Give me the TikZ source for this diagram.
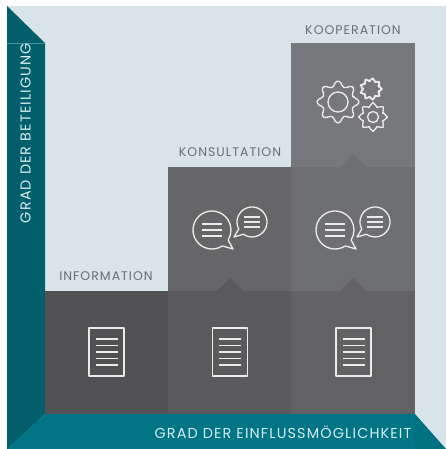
\documentclass[tikz,border=0pt]{standalone}
\usepackage{fontspec}
\setmainfont{Poppins}[LetterSpace=8]
\definecolor{paper}{HTML}{D8E4EA}
\definecolor{stripdark}{HTML}{005F6B}
\definecolor{stripmain}{HTML}{007585}
\definecolor{labelgrey}{HTML}{6D6E70}
\definecolor{axislabel}{HTML}{D9ECEE}
\definecolor{cellA}{HTML}{515052}
\definecolor{cellB}{HTML}{5A595B}
\definecolor{cellC}{HTML}{626264}
\definecolor{cellD}{HTML}{666567}
\definecolor{cellE}{HTML}{6E6F72}
\definecolor{cellF}{HTML}{77787B}
\tikzset{every picture/.style={line width=0.75pt}}
\tikzset{
  icon/.style={draw=white!92!black,line width=1pt,line join=round},
  steplabel/.style={text=labelgrey,font=\fontsize{9.4}{11}\selectfont,inner sep=0pt},
  axisname/.style={text=axislabel,font=\fontsize{10.8}{12}\selectfont,inner sep=0pt}
}
% document icon around its centre
\newcommand{\docicon}[2]{
  \draw[icon] (#1-17.5,#2-24) rectangle (#1+17.5,#2+24);
  \foreach \ly in {-13,-6.5,0,6.5,13}
    \draw[icon] (#1-11,#2+\ly) -- (#1+11,#2+\ly);
}
% two speech bubbles, #1 is the centre of the big one
\newcommand{\talkicon}[2]{
  \draw[icon] ([shift={(57:19)}]#1,#2) arc [start angle=57,end angle=392,radius=19] -- (#1+21,#2+19) -- cycle;
  \draw[icon] ([shift={(152:15)}]#1+40,#2-8) arc [start angle=152,end angle=485,radius=15] -- (#1+22,#2+7) -- cycle;
  \foreach \ly in {-6,0,6}
    \draw[icon] (#1-10,#2+\ly) -- (#1+10,#2+\ly);
  \foreach \ly in {-5,0,5}
    \draw[icon] (#1+32,#2-8+\ly) -- (#1+48,#2-8+\ly);
}
% x, y, teeth, outer radius, root radius
\newcommand{\gearicon}[5]{
  \pgfmathsetmacro{\gstep}{360/#3}
  \draw[icon,rounded corners=1.5pt,shift={(#1,#2)}] (-0.3*\gstep:#5)
    \foreach \gi in {1,...,#3} {
      -- ({(\gi-1)*\gstep-0.3*\gstep}:#5)
      -- ({(\gi-1)*\gstep-0.17*\gstep}:#4)
      -- ({(\gi-1)*\gstep+0.17*\gstep}:#4)
      -- ({(\gi-1)*\gstep+0.3*\gstep}:#5)
    } -- cycle;
}
\begin{document}
\begin{tikzpicture}[x=0.75pt,y=0.75pt,yscale=-1,xscale=1]
\useasboundingbox (0,0) rectangle (446,449);

% Background
\fill[paper] (7,6) rectangle (446,449);
% Left strip
\fill[stripdark] (7,6) -- (45,43) -- (45,414) -- (8,449) -- (7,449) -- cycle;
\draw[stripmain!70!paper,line width=0.4pt] (7,43) -- (45,43);
% Bottom strip
\fill[stripmain] (45,414) -- (415,414) -- (415,449) -- (8,449) -- cycle;
\fill[stripmain!97!black] (415,414) -- (446,449) -- (415,449) -- cycle;

% Cells
\fill[cellA] (45,291) rectangle (168,414);
\fill[cellB] (168,291) rectangle (291,414);
\fill[cellC] (291,291) rectangle (415,414);
\fill[cellD] (168,167) rectangle (291,291);
\fill[cellE] (291,167) rectangle (415,291);
\fill[cellF] (291,43) rectangle (415,167);
% Step marks
\fill[cellB] (217,291) -- (230,278) -- (243,291) -- cycle;
\fill[cellC] (340,291) -- (353,278) -- (366,291) -- cycle;
\fill[cellE] (340,167) -- (353,154) -- (366,167) -- cycle;

% Icons
\docicon{106.5}{352}
\docicon{230}{352}
\docicon{353.5}{352}
\talkicon{212}{230}
\talkicon{335}{230}
\gearicon{338}{102}{8}{21}{16}
\draw[icon] (338,102) circle [radius=10];
\gearicon{371}{89}{9}{11}{8}
\gearicon{373}{117}{8}{14.5}{10.5}
\draw[icon] (373,117) circle [radius=5.5];

% Labels
\node[steplabel] (information) at (106,276) {INFORMATION};
\node[steplabel] (konsultation) at (230,152) {KONSULTATION};
\node[steplabel] (kooperation) at (353,30) {KOOPERATION};
\node[axisname,rotate=90] (beteiligung) at (25.5,133) {GRAD DER BETEILIGUNG};
\node[axisname] (einfluss) at (283,432.5) {GRAD DER EINFLUSSMÖGLICHKEIT};

\end{tikzpicture}
\end{document}
